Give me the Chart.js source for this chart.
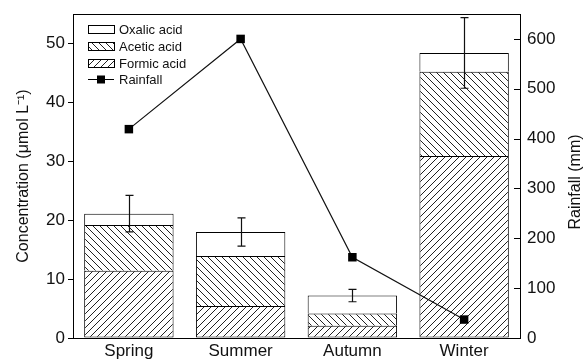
<!DOCTYPE html>
<html>
<head>
<meta charset="utf-8">
<script src="https://cdn.jsdelivr.net/npm/chart.js@4.4.1/dist/chart.umd.min.js"></script>
<style>
  html, body { margin: 0; padding: 0; background: #fff; }
</style>
</head>
<body>
<canvas id="chart" width="586" height="361"></canvas>
<script>
// data
const seasons = ['Spring', 'Summer', 'Autumn', 'Winter'];
const formicAcid = [11.4, 5.45, 2.1, 30.9];
const aceticAcid = [7.8, 8.45, 2.05, 14.3];
const oxalicAcid = [1.9, 4.1, 3.05, 3.2];
const totalError = [3.1, 2.4, 1.05, 6.0];
const rainfall = [419, 600, 162, 37];
const concTicks = [0, 10, 20, 30, 40, 50];
const rainTicks = [0, 100, 200, 300, 400, 500, 600];

const FONT = "'Liberation Sans', Arial, sans-serif";

// hatch patterns
function hatch(dir) {
  const s = 7;
  const c = document.createElement('canvas');
  c.width = s; c.height = s;
  const g = c.getContext('2d');
  g.fillStyle = '#fff';
  g.fillRect(0, 0, s, s);
  g.strokeStyle = '#222';
  g.lineWidth = 1;
  for (let k = -1; k <= 1; k++) {
    g.beginPath();
    if (dir === 'back') {
      g.moveTo(k * s, 0); g.lineTo(k * s + s, s);
    } else {
      g.moveTo(k * s + s, 0); g.lineTo(k * s, s);
    }
    g.stroke();
  }
  return g.createPattern(c, 'repeat');
}
const formicFill = hatch('fwd');
const aceticFill = hatch('back');

const extras = {
  id: 'extras',
  afterDatasetsDraw(chart) {
    const { ctx, scales: { y } } = chart;
    const meta = chart.getDatasetMeta(2);
    ctx.save();
    ctx.strokeStyle = '#111';
    ctx.lineWidth = 1.2;
    seasons.forEach((s, i) => {
      const total = formicAcid[i] + aceticAcid[i] + oxalicAcid[i];
      const x = Math.round(meta.data[i].x) + 0.5;
      const yt = y.getPixelForValue(total + totalError[i]);
      const yb = y.getPixelForValue(total - totalError[i]);
      ctx.beginPath();
      ctx.moveTo(x, yt); ctx.lineTo(x, yb);
      ctx.moveTo(x - 4, yt); ctx.lineTo(x + 4, yt);
      ctx.moveTo(x - 4, yb); ctx.lineTo(x + 4, yb);
      ctx.stroke();
    });
    ctx.restore();
  },
  afterDraw(chart) {
    const { ctx, chartArea: a, scales: { y1 } } = chart;
    ctx.save();
    ctx.strokeStyle = '#000';
    ctx.lineWidth = 1;
    // top frame
    ctx.beginPath();
    ctx.moveTo(a.left, a.top + 0.5); ctx.lineTo(a.right + 0.5, a.top + 0.5);
    ctx.stroke();
    // inward ticks on right axis
    rainTicks.forEach(v => {
      const py = Math.round(y1.getPixelForValue(v)) + 0.5;
      ctx.beginPath();
      ctx.moveTo(a.right - 6, py); ctx.lineTo(a.right, py);
      ctx.stroke();
    });
    // right axis title, reading upward
    ctx.fillStyle = '#111';
    ctx.font = '16px ' + FONT;
    ctx.textAlign = 'center';
    ctx.textBaseline = 'middle';
    ctx.translate(576, (a.top + a.bottom) / 2 + 6);
    ctx.rotate(-Math.PI / 2);
    ctx.fillText('Rainfall (mm)', 0, 0);
    ctx.restore();

    // legend
    ctx.save();
    const items = [
      { label: 'Oxalic acid', fill: '#fff', y: 29 },
      { label: 'Acetic acid', fill: aceticFill, y: 46 },
      { label: 'Formic acid', fill: formicFill, y: 63 },
      { label: 'Rainfall', line: true, y: 79 }
    ];
    ctx.font = '13px ' + FONT;
    ctx.textBaseline = 'middle';
    ctx.textAlign = 'left';
    items.forEach(it => {
      ctx.strokeStyle = '#000';
      ctx.lineWidth = 1;
      if (it.line) {
        ctx.beginPath();
        ctx.moveTo(88, it.y + 0.5); ctx.lineTo(114, it.y + 0.5);
        ctx.stroke();
        ctx.fillStyle = '#000';
        ctx.fillRect(97, it.y - 3.5, 8, 8);
      } else {
        ctx.fillStyle = it.fill;
        ctx.fillRect(88.5, it.y - 3.5, 26, 8);
        ctx.strokeRect(88.5, it.y - 3.5, 26, 8);
      }
      ctx.fillStyle = '#111';
      ctx.fillText(it.label, 119, it.y + 1);
    });
    ctx.restore();
  }
};

const barBase = {
  type: 'bar',
  borderColor: '#000',
  borderWidth: 1,
  borderSkipped: 'start',
  barPercentage: 0.8,
  categoryPercentage: 1.0,
  yAxisID: 'y',
  order: 1
};

// fixed box sizes so the plot area lands where the original has it
const fixBox = (w) => (s) => {
  s.width = w;
  s.paddingTop = 0;
  s.paddingBottom = 0;
};

new Chart(document.getElementById('chart'), {
  data: {
    labels: seasons,
    datasets: [
      { ...barBase, label: 'Formic acid', data: formicAcid, backgroundColor: formicFill, borderSkipped: false },
      { ...barBase, label: 'Acetic acid', data: aceticAcid, backgroundColor: aceticFill },
      { ...barBase, label: 'Oxalic acid', data: oxalicAcid, backgroundColor: '#fff' },
      {
        type: 'line', label: 'Rainfall', data: rainfall, yAxisID: 'y1', order: 0,
        borderColor: '#111', borderWidth: 1.2, pointStyle: 'rect', pointRadius: 6,
        pointBackgroundColor: '#000', pointBorderColor: '#000', pointBorderWidth: 0,
        tension: 0, fill: false
      }
    ]
  },
  options: {
    responsive: false,
    animation: false,
    layout: { padding: { top: 14, left: 0, right: 0, bottom: 0 } },
    plugins: { legend: { display: false }, tooltip: { enabled: false } },
    scales: {
      x: {
        stacked: true,
        grid: { display: false, drawTicks: false },
        border: { display: true, color: '#000', width: 1 },
        ticks: { color: '#111', font: { family: FONT, size: 17 }, padding: 3 },
        afterFit: s => { s.height = 23; }
      },
      y: {
        stacked: true,
        position: 'left',
        min: 0, max: 55,
        afterBuildTicks: s => { s.ticks = concTicks.map(v => ({ value: v })); },
        grid: { drawOnChartArea: false, drawTicks: true, tickLength: 5, color: '#000' },
        border: { display: true, color: '#000', width: 1 },
        ticks: { color: '#111', font: { family: FONT, size: 17 }, padding: 3 },
        title: {
          display: true, text: 'Concentration (\u03bcmol L\u207b\u00b9)', color: '#111',
          font: { family: FONT, size: 16 }, padding: { top: 14, bottom: 0 }
        },
        afterFit: fixBox(73)
      },
      y1: {
        position: 'right',
        min: 0, max: 650,
        afterBuildTicks: s => { s.ticks = rainTicks.map(v => ({ value: v })); },
        grid: { display: false, drawTicks: false },
        border: { display: true, color: '#000', width: 1 },
        ticks: { color: '#111', font: { family: FONT, size: 17 }, padding: 7 },
        afterFit: fixBox(66)
      }
    }
  },
  plugins: [extras]
});
</script>
</body>
</html>
